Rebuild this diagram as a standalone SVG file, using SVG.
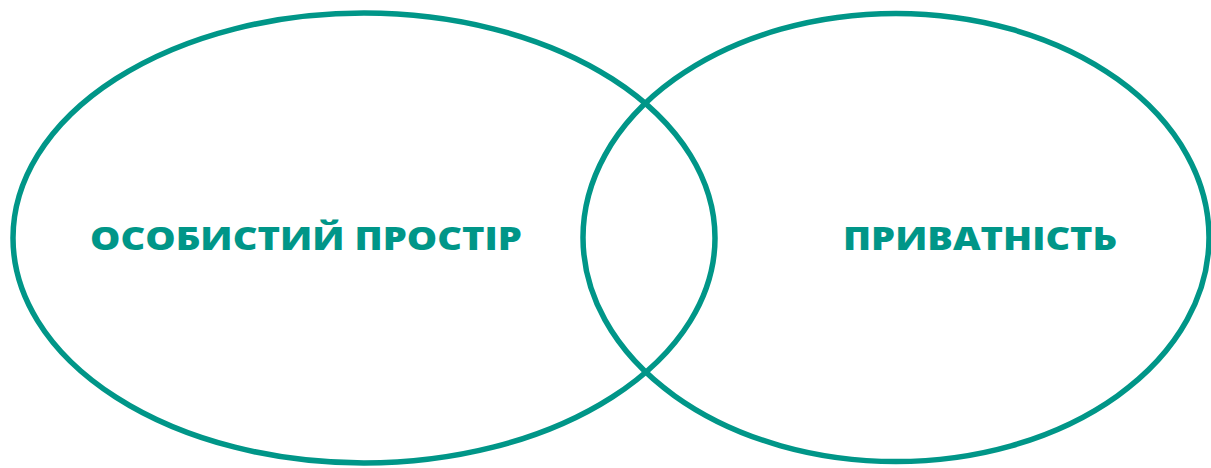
<svg xmlns="http://www.w3.org/2000/svg" width="1211" height="468" viewBox="0 0 1211 468">
<style>
.c{fill:none;stroke:#009688;stroke-width:5.5}
.t{fill:#009688;font-family:"Open Sans","Noto Sans","DejaVu Sans",sans-serif;font-weight:800;font-size:31px}
</style>
<rect width="1211" height="468" fill="#fff"/>
<g id="left">
<ellipse class="c" cx="364" cy="238" rx="351" ry="225"/>
<text class="t" x="90" y="250" textLength="432" lengthAdjust="spacingAndGlyphs">ОСОБИСТИЙ ПРОСТІР</text>
</g>
<g id="right">
<ellipse class="c" cx="896" cy="237.5" rx="313" ry="224"/>
<text class="t" x="843" y="250" textLength="274" lengthAdjust="spacingAndGlyphs">ПРИВАТНІСТЬ</text>
</g>
<g id="connectors"/>
</svg>
